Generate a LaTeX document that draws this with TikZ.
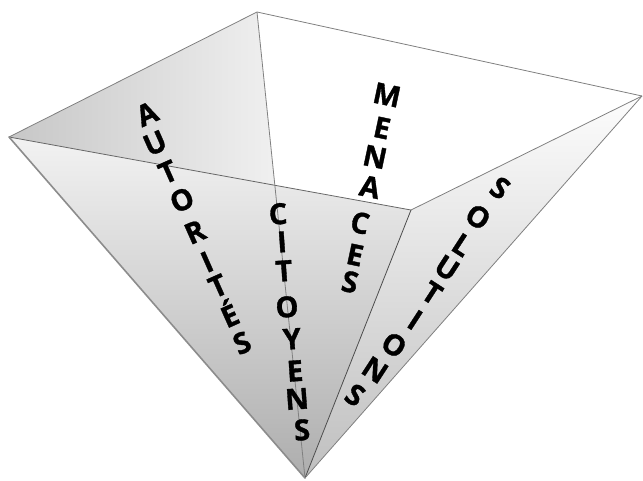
\documentclass[tikz,border=0pt]{standalone}
\usepackage{fontspec}
\setmainfont{Open Sans}[BoldFeatures={FakeBold=1.2}]
\begin{document}
\begin{tikzpicture}[x=1pt,y=-1pt,
  edge/.style={draw=black!50,line width=0.8pt},
  letter/.style={font=\bfseries\fontsize{29}{29}\selectfont,inner sep=0pt,text height=20.5pt,text depth=0pt,anchor=center}]
\useasboundingbox (0,0) rectangle (643,480);
\coordinate (L) at (9,137);
\coordinate (B) at (257,12);
\coordinate (R) at (642,96);
\coordinate (F) at (411,210);
\coordinate (Ap) at (305,478);
\coordinate (X) at (intersection of L--F and B--Ap);
% inner back-left face (visible part)
\shade[left color=black!22,right color=black!6] (L) -- (B) -- (X) -- cycle;
% front-left face
\shade[top color=black!5,bottom color=black!32] (L) -- (F) -- (Ap) -- cycle;
% front-right face
\shade[top color=black!1,bottom color=black!25] (F) -- (R) -- (Ap) -- cycle;
% edges
\draw[edge] (L) -- (B) -- (R);
\draw[edge] (R) -- (F);
\draw[edge,draw=black!60] (L) -- (F);
\draw[edge] (B) -- (Ap);
\draw[edge,draw=black!70] (F) -- (Ap);
\draw[edge] (R) -- (Ap);
\draw[draw=black!45,line width=1.6pt,line cap=round] (L) -- (Ap);
% AUTORITES
\foreach \c/\x/\y [count=\i] in {A/147/114,U/155/143,T/168/172,O/182/200,R/195/232,I/207/262,T/218/286,É/230/316,S/242/343}
  \node[letter,rotate=24] (au\i) at (\x,\y) {\c};
% CITOYENS
\foreach \c/\x/\y [count=\i] in {C/278/214,I/282/242,T/284/271,O/287/307,Y/292/339,E/295/371,N/297/399,S/302/430}
  \node[letter,rotate=4] (ci\i) at (\x,\y) {\c};
% MENACES
\foreach \c/\x/\y [count=\i] in {M/387/95,E/382/128,N/375/157,A/370/187,C/360/223,E/355/255,S/350/282}
  \node[letter,rotate=-12] (me\i) at (\x,\y) {\c};
% SOLUTIONS
\foreach \c/\x/\y [count=\i] in {S/500/188,O/478/217,L/462/245,U/447/268,T/432/293,I/415/320,O/394/345,N/375/370,S/355/395}
  \node[letter,rotate=-33] (so\i) at (\x,\y) {\c};
\end{tikzpicture}
\end{document}
